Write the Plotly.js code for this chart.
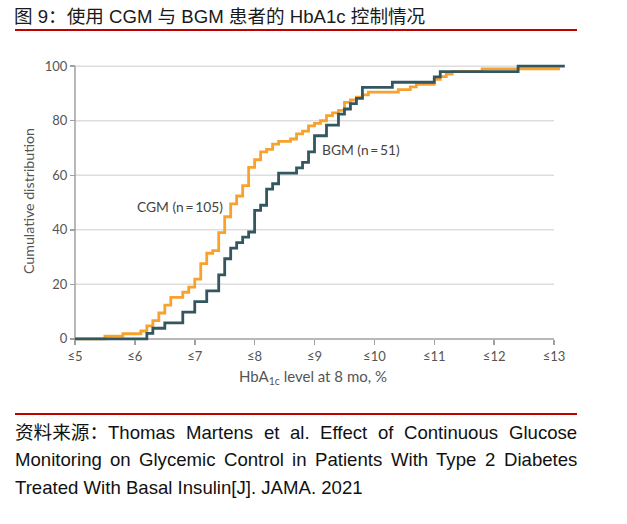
<!DOCTYPE html>
<html>
<head>
<meta charset="utf-8">
<script src="https://cdn.plot.ly/plotly-3.0.1.min.js"></script>
<style>
  html, body { margin: 0; padding: 0; background: #ffffff; }
  #chart { width: 627px; height: 524px; }
</style>
</head>
<body>
<div id="chart"></div>
<script>
// Cumulative distribution of HbA1c at 8 months, by monitoring group
const cgmLevel  = [5.0, 5.5, 5.8, 6.1, 6.2, 6.3, 6.4, 6.5, 6.6, 6.8, 6.9, 7.0, 7.1, 7.2, 7.3, 7.4, 7.5, 7.6, 7.7, 7.8,
                   7.9, 8.0, 8.1, 8.2, 8.3, 8.4, 8.6, 8.7, 8.8, 8.9, 9.0, 9.1, 9.2, 9.3, 9.4, 9.5, 9.6, 9.7, 9.8, 9.9,
                   10.4, 10.6, 10.7, 11.0, 11.1, 11.2, 11.3, 11.8, 13.1];
const cgmCumPct = [0, 1.0, 1.9, 2.9, 4.8, 6.7, 9.5, 12.4, 15.2, 17.1, 19.0, 21.9, 27.6, 31.4, 32.4, 39.0, 44.8, 49.5, 52.4, 56.2,
                   62.9, 65.7, 68.6, 69.5, 71.4, 72.4, 73.3, 75.2, 76.2, 78.1, 79.0, 80.0, 81.9, 82.9, 83.8, 86.7, 87.6, 88.6, 89.5, 90.5,
                   91.4, 92.4, 93.3, 95.2, 96.2, 97.1, 98.1, 99.0, 99.0];

const bgmLevel  = [5.0, 6.2, 6.3, 6.5, 6.8, 7.0, 7.2, 7.4, 7.5, 7.6, 7.7, 7.8, 7.9, 8.0, 8.1, 8.2, 8.3, 8.4, 8.7, 8.8,
                   8.9, 9.0, 9.2, 9.4, 9.5, 9.6, 9.7, 9.8, 10.3, 11.0, 11.1, 12.4, 13.18];
const bgmCumPct = [0, 2.0, 3.9, 5.9, 9.8, 13.7, 17.6, 23.5, 29.4, 33.3, 35.3, 37.3, 39.2, 47.1, 49.0, 54.9, 56.9, 60.8, 62.7, 64.7,
                   68.6, 74.5, 78.4, 82.4, 84.3, 86.3, 88.2, 92.2, 94.1, 96.1, 98.0, 100, 100];

const xTickVals = [5, 6, 7, 8, 9, 10, 11, 12, 13];
const xTickText = ['≤5', '≤6', '≤7', '≤8', '≤9', '≤10', '≤11', '≤12', '≤13'];
const yTickVals = [0, 20, 40, 60, 80, 100];

const seriesNames = ['CGM (n\u2009=\u2009105)', 'BGM (n\u2009=\u200951)'];
const titleText = '图 9：使用 CGM 与 BGM 患者的 HbA1c 控制情况';
const sourceLines = [
  '资料来源：Thomas Martens et al. Effect of Continuous Glucose',
  'Monitoring on Glycemic Control in Patients With Type 2 Diabetes',
  'Treated With Basal Insulin[J]. JAMA. 2021'
];

// ---- page geometry ----
const W = 627, H = 524;
const M = { l: 72, r: 55, t: 58, b: 181 };
const plotW = W - M.l - M.r, plotH = H - M.t - M.b;
const xRange = [4.95, 13.3];
const yRange = [-1.5, 103];
const px2paperX = px => (px - M.l) / plotW;
const px2paperY = py => 1 - (py - M.t) / plotH;

const ORANGE = '#F8A22D';
const TEAL = '#33575F';
const AXIS = '#a0a0a0';
const GRID = '#dddddd';
const LABEL = '#555555';
const chartFont = 'Lato, "Open Sans", sans-serif';
const docFont = '"Liberation Sans", Arial, "Noto Sans CJK SC", sans-serif';

const traces = [
  { x: cgmLevel, y: cgmCumPct, name: seriesNames[0], type: 'scatter', mode: 'lines',
    line: { shape: 'hv', color: ORANGE, width: 2.8 }, hoverinfo: 'skip' },
  { x: bgmLevel, y: bgmCumPct, name: seriesNames[1], type: 'scatter', mode: 'lines',
    line: { shape: 'hv', color: TEAL, width: 2.8 }, hoverinfo: 'skip' }
];

// gridlines and axis lines limited to the 5–13 / 0–100 frame
const xMin = xTickVals[0], xMax = xTickVals[xTickVals.length - 1];
const yMin = yTickVals[0], yMax = yTickVals[yTickVals.length - 1];
const shapes = [];
yTickVals.slice(1).forEach(v => shapes.push({
  type: 'line', xref: 'x', yref: 'y', x0: xMin, x1: xMax, y0: v, y1: v,
  line: { color: GRID, width: 1.5 }, layer: 'below'
}));
shapes.push({ type: 'line', xref: 'x', yref: 'y', x0: xMin, x1: xMax, y0: yMin, y1: yMin,
  line: { color: AXIS, width: 1.5 }, layer: 'below' });
shapes.push({ type: 'line', xref: 'x', yref: 'y', x0: xMin, x1: xMin, y0: yMin, y1: yMax,
  line: { color: AXIS, width: 1.5 }, layer: 'below' });
// red rules under the title and above the source note
[30, 414].forEach(py => shapes.push({
  type: 'line', xref: 'paper', yref: 'paper',
  x0: px2paperX(15), x1: px2paperX(577), y0: px2paperY(py), y1: px2paperY(py),
  line: { color: '#C00000', width: 2 }
}));

const annotations = [
  { x: 6.75, y: 48.7, xref: 'x', yref: 'y', text: seriesNames[0], showarrow: false,
    xanchor: 'center', yanchor: 'middle',
    font: { family: chartFont, size: 13.8, color: '#444' } },
  { x: 9.77, y: 69.3, xref: 'x', yref: 'y', text: seriesNames[1], showarrow: false,
    xanchor: 'center', yanchor: 'middle',
    font: { family: chartFont, size: 13.8, color: '#444' } },
  { x: px2paperX(313), y: px2paperY(377), xref: 'paper', yref: 'paper',
    xanchor: 'center', yanchor: 'middle',
    text: 'HbA<sub>1c</sub> level at 8 mo, %', showarrow: false,
    font: { family: chartFont, size: 15, color: LABEL } },
  { x: px2paperX(28), y: px2paperY(201), xref: 'paper', yref: 'paper',
    xanchor: 'center', yanchor: 'middle',
    text: 'Cumulative distribution', textangle: -90, showarrow: false,
    font: { family: chartFont, size: 14.2, color: LABEL } }
];

// source note: first two lines justified between the rules' ends, last line left-aligned
const FOOT_SIZE = 18.6;
const footLeft = 15, footRight = 577;
const footY = [432, 459, 487];
const ctx = document.createElement('canvas').getContext('2d');
ctx.font = FOOT_SIZE + 'px "Liberation Sans", Arial, "Noto Sans CJK SC", sans-serif';
sourceLines.forEach((line, i) => {
  const footFont = { family: docFont, size: FOOT_SIZE, color: '#111' };
  if (i === sourceLines.length - 1) {
    annotations.push({ x: px2paperX(footLeft), y: px2paperY(footY[i]), xref: 'paper', yref: 'paper',
      xanchor: 'left', yanchor: 'middle', text: line, showarrow: false, borderpad: 0, borderwidth: 0, font: footFont });
    return;
  }
  const words = line.split(' ');
  const widths = words.map(w => ctx.measureText(w).width);
  const total = widths.reduce((a, b) => a + b, 0);
  const gap = (footRight - footLeft - total) / (words.length - 1);
  let cx = footLeft;
  words.forEach((w, k) => {
    annotations.push({ x: px2paperX(cx), y: px2paperY(footY[i]), xref: 'paper', yref: 'paper',
      xanchor: 'left', yanchor: 'middle', text: w, showarrow: false, borderpad: 0, borderwidth: 0, font: footFont });
    cx += widths[k] + gap;
  });
});

const layout = {
  width: W, height: H,
  margin: M,
  paper_bgcolor: '#ffffff', plot_bgcolor: '#ffffff',
  showlegend: false,
  title: {
    text: titleText, xref: 'container', yref: 'container',
    x: 14 / W, xanchor: 'left', y: 1 - 16 / H, yanchor: 'middle',
    font: { family: docFont, size: 18.6, color: '#1a1a1a' }
  },
  xaxis: {
    range: xRange, tickmode: 'array', tickvals: xTickVals, ticktext: xTickText,
    ticks: 'outside', ticklen: 5, tickwidth: 1.5, tickcolor: AXIS,
    showgrid: false, zeroline: false, showline: false,
    anchor: 'free', position: (0 - yRange[0]) / (yRange[1] - yRange[0]),
    tickfont: { family: chartFont, size: 13, color: LABEL }, fixedrange: true
  },
  yaxis: {
    range: yRange, tickmode: 'array', tickvals: yTickVals,
    ticks: 'outside', ticklen: 5, tickwidth: 1.5, tickcolor: AXIS,
    showgrid: false, zeroline: false, showline: false,
    anchor: 'free', position: (xMin - xRange[0]) / (xRange[1] - xRange[0]),
    tickfont: { family: chartFont, size: 13, color: LABEL }, fixedrange: true
  },
  shapes: shapes,
  annotations: annotations
};

Plotly.newPlot('chart', traces, layout, { staticPlot: true, displayModeBar: false });
</script>
</body>
</html>
